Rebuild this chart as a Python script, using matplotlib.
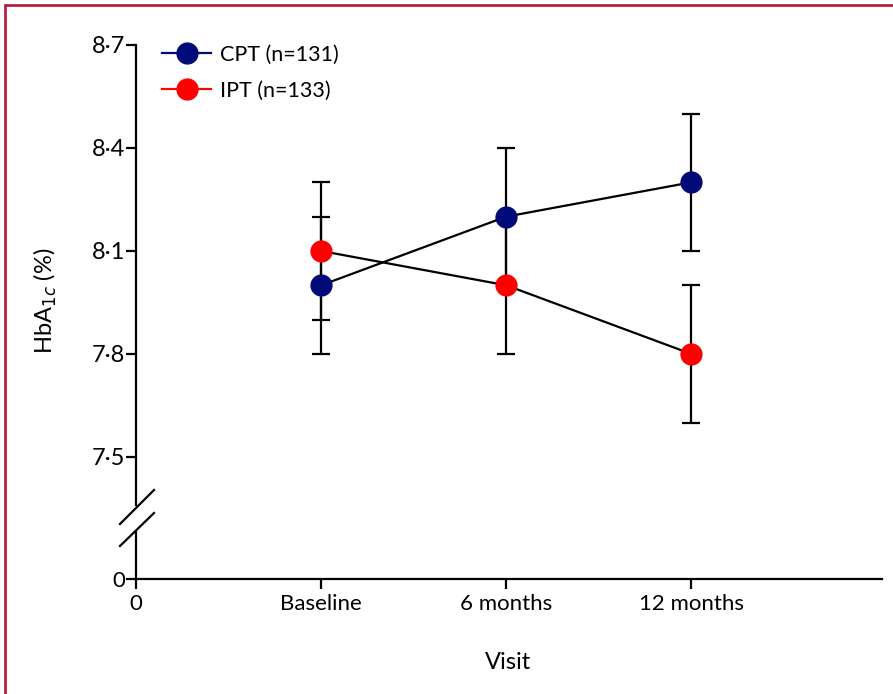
import numpy as np
import matplotlib.pyplot as plt
import matplotlib.patches as mpatches
from matplotlib.lines import Line2D

plt.rcParams['font.family'] = ['Lato', 'DejaVu Sans']

visits = ['Baseline', '6 months', '12 months']
x_pos = [1, 2, 3]
cpt_mean = [8.0, 8.2, 8.3]
cpt_err = [0.2, 0.2, 0.2]
ipt_mean = [8.1, 8.0, 7.8]
ipt_err = [0.2, 0.2, 0.2]
y_ticks = [7.5, 7.8, 8.1, 8.4, 8.7]

blue = '#000a78'
red = '#ff0000'
fs = 16

fig = plt.figure(figsize=(8.93, 6.94), dpi=100)
ax = fig.add_axes([0.1523, 0.2723, 0.8354, 0.6629])
ax0 = fig.add_axes([0.1523, 0.1657, 0.8354, 0.0677])

# upper (broken) part
for means, errs, col in [(cpt_mean, cpt_err, blue), (ipt_mean, ipt_err, red)]:
    ax.errorbar(x_pos, means, yerr=errs, fmt='none', ecolor='black', elinewidth=1.6,
                capsize=6.5, capthick=1.6, zorder=2)
    ax.plot(x_pos, means, color='black', lw=1.6, zorder=3)
    ax.plot(x_pos, means, 'o', color=col, markersize=16, markeredgewidth=0, zorder=4)

ax.set_xlim(0, 4.03)
ax.set_ylim(7.36, 8.7)
ax.set_yticks(y_ticks)
ax.set_yticklabels([f'{v:.1f}'.replace('.', '\u00b7') for v in y_ticks])
ax.set_xticks([])
for s in ['top', 'right', 'bottom']:
    ax.spines[s].set_visible(False)
ax.spines['left'].set_linewidth(1.6)
ax.tick_params(axis='y', direction='out', length=7, width=1.6, pad=1, labelsize=fs + 1)
ax.patch.set_alpha(0)

# lower part with zero
ax0.set_xlim(0, 4.03)
ax0.set_ylim(0, 1)
ax0.set_yticks([0])
ax0.set_yticklabels(['0'])
ax0.set_xticks([0] + x_pos)
ax0.set_xticklabels(['0'] + visits)
for s in ['top', 'right']:
    ax0.spines[s].set_visible(False)
for s in ['left', 'bottom']:
    ax0.spines[s].set_linewidth(1.6)
ax0.tick_params(direction='out', length=7, width=1.6, pad=1, labelsize=fs)
ax0.tick_params(axis='x', pad=4)
ax0.patch.set_alpha(0)

# axis break marks
for y0, y1 in [(524, 490), (546, 513)]:
    fig.add_artist(Line2D([120 / 893, 154 / 893], [1 - y0 / 694, 1 - y1 / 694],
                          color='black', lw=1.6, transform=fig.transFigure))

fig.text(0.051, 0.567, 'HbA$_{1c}$ (%)', rotation=90, ha='center', va='center', fontsize=17)
fig.text(0.569, 0.046, 'Visit', ha='center', va='center', fontsize=17)

handles = [Line2D([], [], color=blue, marker='o', markersize=15, lw=1.6, label='CPT (n=131)'),
           Line2D([], [], color=red, marker='o', markersize=15, lw=1.6, label='IPT (n=133)')]
ax.legend(handles=handles, loc='upper left', bbox_to_anchor=(0.023, 1.02), frameon=False,
          fontsize=15.5, handlelength=2.3, handletextpad=0.4, labelspacing=0.75, borderaxespad=0)

# red frame
fig.add_artist(mpatches.Rectangle((5 / 893, -0.1), 1.2, 1 - 5 / 694 + 0.1, fill=False,
                                  edgecolor='#b4233f', lw=2, transform=fig.transFigure))

fig.savefig('out.png', dpi=100)
